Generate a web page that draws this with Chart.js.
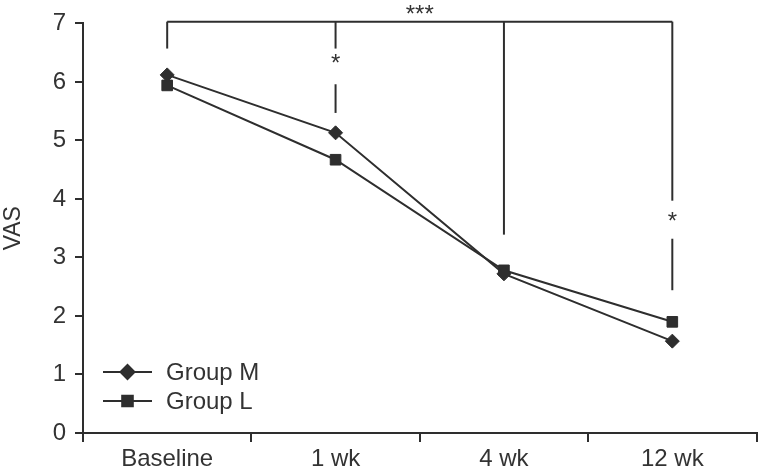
<!DOCTYPE html>
<html>
<head>
<meta charset="utf-8">
<script src="https://cdn.jsdelivr.net/npm/chart.js@4/dist/chart.umd.min.js"></script>
<style>
html,body{margin:0;padding:0;background:#fff;}
#wrap{width:765px;height:472px;position:relative;}
</style>
</head>
<body>
<div id="wrap"><canvas id="c" width="765" height="472"></canvas></div>
<script>
// ---- data ----
const categories = ["Baseline", "1 wk", "4 wk", "12 wk"];
const groupM = [6.12, 5.13, 2.72, 1.57];
const groupL = [5.94, 4.67, 2.78, 1.90];
const yTicks = [0, 1, 2, 3, 4, 5, 6, 7];
const seriesLabels = ["Group M", "Group L"];
const axisTitle = "VAS";
// significance annotations (category index, value ranges)
const bracketTop = 7.03;
const bracketLabel = "***";
const bracketDrops = [
  { idx: 0, segs: [[7.03, 6.57]] },
  { idx: 1, segs: [[7.03, 6.57], [5.96, 5.47]], star: 6.42 },
  { idx: 2, segs: [[7.03, 3.39]] },
  { idx: 3, segs: [[7.03, 3.97], [3.32, 2.44]], star: 3.72 }
];

const FONT = '"Liberation Sans", Arial, Helvetica, sans-serif';
const INK = '#2e2e2e';
const TXT = '#333333';

const annotations = {
  id: 'annotations',
  afterDatasetsDraw(chart) {
    const ctx = chart.ctx, x = chart.scales.x, y = chart.scales.y;
    ctx.save();
    ctx.strokeStyle = INK;
    ctx.lineWidth = 2;
    // top bracket
    const yt = y.getPixelForValue(bracketTop);
    ctx.beginPath();
    ctx.moveTo(x.getPixelForValue(0), yt);
    ctx.lineTo(x.getPixelForValue(categories.length - 1), yt);
    ctx.stroke();
    ctx.fillStyle = TXT;
    ctx.font = '24px ' + FONT;
    ctx.textAlign = 'center';
    ctx.textBaseline = 'alphabetic';
    ctx.fillText(bracketLabel, (x.getPixelForValue(1) + x.getPixelForValue(2)) / 2, yt + 0.5);
    bracketDrops.forEach(d => {
      const px = x.getPixelForValue(d.idx);
      d.segs.forEach(s => {
        ctx.beginPath();
        ctx.moveTo(px, y.getPixelForValue(s[0]));
        ctx.lineTo(px, y.getPixelForValue(s[1]));
        ctx.stroke();
      });
      if (d.star !== undefined) {
        ctx.fillText('*', px, y.getPixelForValue(d.star) + 13.7);
      }
    });
    ctx.restore();
  }
};

const legendPlugin = {
  id: 'customLegend',
  afterDraw(chart) {
    const ctx = chart.ctx;
    ctx.save();
    const rows = [372, 401];
    chart.data.datasets.forEach((ds, i) => {
      const yy = rows[i];
      ctx.strokeStyle = INK;
      ctx.lineWidth = 2;
      ctx.beginPath();
      ctx.moveTo(103, yy);
      ctx.lineTo(152, yy);
      ctx.stroke();
      Chart.helpers.drawPoint(ctx, {
        pointStyle: ds.pointStyle,
        radius: ds.pointRadius,
        borderWidth: 1,
        rotation: 0
      }, 127.5, yy);
      ctx.fillStyle = INK;
      ctx.fill();
      ctx.fillStyle = TXT;
      ctx.font = '24px ' + FONT;
      ctx.textAlign = 'left';
      ctx.textBaseline = 'middle';
      ctx.fillText(ds.label, 166, yy + 1);
    });
    ctx.restore();
  }
};

new Chart(document.getElementById('c'), {
  type: 'line',
  data: {
    labels: categories,
    datasets: [
      {
        label: seriesLabels[0],
        data: groupM,
        borderColor: INK,
        backgroundColor: INK,
        borderWidth: 2,
        pointStyle: 'rectRot',
        pointRadius: 7,
        pointBorderWidth: 1,
        tension: 0
      },
      {
        label: seriesLabels[1],
        data: groupL,
        borderColor: INK,
        backgroundColor: INK,
        borderWidth: 2,
        pointStyle: 'rect',
        pointRadius: 7.5,
        pointBorderWidth: 1,
        tension: 0
      }
    ]
  },
  options: {
    responsive: false,
    animation: false,
    events: [],
    layout: { padding: { top: 20.7, right: 3, left: 0, bottom: 0 } },
    plugins: {
      legend: { display: false },
      tooltip: { enabled: false }
    },
    scales: {
      x: {
        type: 'category',
        offset: true,
        afterFit(s) { s.height = 39; },
        grid: {
          offset: true,
          drawOnChartArea: false,
          drawTicks: true,
          tickLength: 9,
          color: INK,
          lineWidth: 2
        },
        border: { display: true, color: INK, width: 2 },
        ticks: {
          color: TXT,
          font: { family: FONT, size: 24 },
          padding: 3,
          maxRotation: 0,
          autoSkip: false
        }
      },
      y: {
        min: yTicks[0],
        max: yTicks[yTicks.length - 1],
        afterFit(s) { s.width = 83; },
        afterBuildTicks(s) { s.ticks = yTicks.map(v => ({ value: v })); },
        grid: {
          drawOnChartArea: false,
          drawTicks: true,
          tickLength: 8,
          color: INK,
          lineWidth: 2
        },
        border: { display: true, color: INK, width: 2 },
        ticks: {
          color: TXT,
          font: { family: FONT, size: 24 },
          padding: 9
        },
        title: {
          display: true,
          text: axisTitle,
          color: TXT,
          font: { family: FONT, size: 23 },
          padding: { top: 0, bottom: 0 }
        }
      }
    }
  },
  plugins: [annotations, legendPlugin]
});
</script>
</body>
</html>
